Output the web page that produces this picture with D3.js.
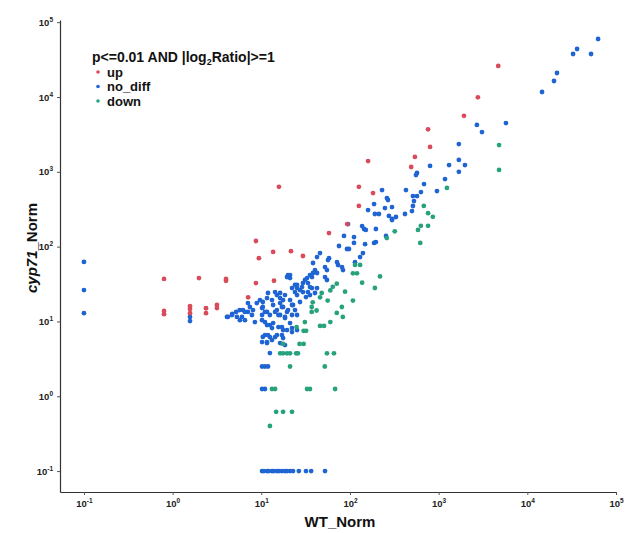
<!DOCTYPE html>
<html>
<head>
<meta charset="utf-8">
<script src="https://cdn.jsdelivr.net/npm/d3@7"></script>
<style>
  body { margin: 0; background: #fff; }
  svg text { font-family: "Liberation Sans", Arial, sans-serif; }
</style>
</head>
<body>
<div id="chart"></div>
<script>
// ---- data: [WT_Norm, cyp71_Norm] ----
const upPoints = [
  [0.8, 37], [0.8, 13.8], [0.8, 12.5], [1.57, 16], [1.57, 14.7], [1.57, 12.9],
  [1.98, 38], [2.38, 15], [2.38, 12.9], [3.16, 16.6], [3.16, 15.1], [4.0, 37], [4.0, 35],
  [7.1, 21], [8.7, 119], [8.7, 32.6], [9.4, 70], [13.6, 85], [21.6, 87], [29.5, 75],
  [13.9, 35], [15.8, 630], [58, 152], [93, 200], [126, 350], [182, 520], [126, 630],
  [160, 1390], [490, 1160], [540, 1580], [760, 3700], [800, 2150], [1930, 5600],
  [2770, 9900], [4700, 26000]
];

const noDiffPoints = [
  [0.1, 62.5], [0.1, 26.3], [0.1, 12.9], [1.57, 11.5], [1.57, 10.1],
  [4.1, 11.5], [4.7, 12.6], [5.2, 13.4], [5.7, 14.2],
  [62800, 59600], [36400, 43850], [32800, 37580], [52300, 37580], [21600, 20940],
  [20000, 16370], [14650, 11660], [5740, 4490], [2700, 4230], [3080, 3400],
  [1690, 2350], [1690, 1440], [1310, 1230], [1980, 1230], [1690, 1000], [1180, 800],
  [800, 1200], [555, 906], [570, 964], [684, 686], [957, 553], [428, 570], [230, 570],
  [513, 474], [570, 474], [527, 407], [632, 536], [513, 349], [500, 299], [417, 273],
  [330, 249], [298, 234], [248, 328], [261, 446], [268, 420], [298, 338], [275, 257],
  [255, 139], [187, 371], [160, 308], [191, 273], [212, 273], [196, 172], [137, 188],
  [144, 172], [151, 167], [95, 200], [85.6, 139], [111, 134], [75.2, 102], [111, 112],
  [148, 108], [187, 112], [196, 115], [92.5, 92.9], [97.4, 92.9], [45.9, 82.1],
  [42.5, 72.6], [58, 70], [130, 72.6], [140, 82.1], [298, 227],
  [114, 62], [71.4, 62.2], [73.3, 56.8], [81.3, 53.3], [83.4, 48.6], [38.3, 60.4],
  [52.3, 53.3], [55, 48.6], [40.3, 48.6], [38.3, 44.4], [35.4, 41.7], [32.8, 38],
  [29.5, 32.6], [20, 41.7], [21.1, 38], [24, 30.7], [25.3, 27.9], [27.3, 26.3],
  [29.5, 24.7], [35.4, 28.8], [33.6, 24.7], [31.9, 21.2], [42.5, 27.9], [40.3, 24],
  [16.3, 24], [18.5, 22.5], [11.9, 24], [9.66, 19.3], [10.4, 18.2], [13.2, 19.3],
  [13.6, 16.6], [16.3, 17.6], [17.1, 15.6], [21.1, 19.3], [22.8, 16.6], [27.3, 18.2],
  [7.07, 17.6], [6.21, 14.2], [8.05, 14.2], [7.84, 12.2], [10.2, 15.1], [11.6, 13.4],
  [12.5, 12.2], [15, 14.2], [16.3, 12.2], [18.5, 11.1], [20, 14.2], [22.2, 12.2],
  [5.31, 11.5], [5.74, 10.4], [6.54, 10.4], [8.47, 9.8], [10.2, 10.4], [11.6, 8.95],
  [13.2, 8.16], [17.1, 8.41], [19.5, 7.67], [22.2, 7.21], [25.3, 7.67], [11, 6.58],
  [12.5, 6.18], [15, 6.58], [10.4, 6.2], [17.6, 6.0], [10.2, 5.3], [11.6, 5.14],
  [13.2, 5.64], [16.3, 5.14], [18.5, 4.83], [12.5, 3.78], [10.2, 2.5], [11, 2.5],
  [11.9, 2.5], [10.2, 1.25], [11, 1.25],
  [56.5, 66.2], [42.5, 44.4], [37.3, 39.2], [52.3, 39.2], [55, 35.8], [31.1, 35.8],
  [33.6, 32.6], [28.8, 28.8], [37.3, 27.9], [35.4, 22.5], [22.2, 27.9], [24, 24.7],
  [25.3, 22.5], [19.5, 39.2], [21.1, 41.7], [17.6, 19.3], [25.3, 30.7], [14.3, 24.7],
  [15, 22.5], [16.3, 20.5], [11.6, 20.5], [8.9, 17.6], [7.44, 15.6], [7.07, 13.4],
  [6.54, 13.4], [6.05, 11.5], [4.66, 12.2], [4.2, 11.5], [10.4, 15.6], [11, 13.4],
  [10.2, 12.2], [14.3, 13.4], [15.6, 12.2], [17.6, 15.6], [19.5, 13.4], [18.5, 11.5],
  [22.2, 16.6], [24, 14.2], [25.3, 12.2], [11, 9.8], [12.5, 8.95], [13.6, 9.5],
  [15.6, 8.41], [17.6, 7.67], [21.1, 9.5], [22.2, 8.16], [11.9, 6.58], [14.3, 6.18],
  [17.1, 6.58], [11.6, 5.3],
  // zero counts in cyp71 (plotted at 0.1)
  [10.2, 0.1], [10.7, 0.1], [11.6, 0.1], [12.1, 0.1], [13.2, 0.1], [13.8, 0.1],
  [15, 0.1], [15.8, 0.1], [17.1, 0.1], [18.5, 0.1], [19.5, 0.1], [21.1, 0.1],
  [22.8, 0.1], [26.5, 0.1], [31.9, 0.1], [36.5, 0.1], [52.3, 0.1]
];

const downPoints = [
  [30, 7.5], [32, 7.5], [27, 5], [30, 5], [17.6, 5],
  [16.3, 3.75], [17.6, 3.75], [19.5, 3.75], [21.1, 3.75], [24.7, 3.75], [25.9, 3.75],
  [55, 3.75], [66, 3.75], [21.1, 2.5], [52, 2.5],
  [13.2, 1.25], [14.3, 1.25], [32.8, 1.25], [35.4, 1.25], [68, 1.25],
  [14.7, 0.62], [17.6, 0.62], [22.2, 0.62], [12.5, 0.4],
  [114, 57], [130, 57], [108, 44], [120, 44], [218, 40], [137, 33], [191, 28],
  [71, 32], [64, 29], [60, 26], [88, 25], [48, 24], [46, 21], [56, 19], [108, 19],
  [38, 18], [37, 15.6], [37, 13.4], [42, 14], [81, 15.6], [71, 13], [83, 11.5],
  [60, 9.8], [31, 9.8], [46, 8.7], [51, 8.7], [25, 8.4],
  [260, 130], [320, 160], [620, 112], [585, 167], [630, 190], [760, 190], [680, 350],
  [760, 280], [860, 250], [1240, 610], [4800, 2280], [4800, 1060]
];

const tickExps = [-1, 0, 1, 2, 3, 4, 5];
const legendTitle = 'p<=0.01 AND |log2Ratio|>=1';

const groups = [
  { key: 'up', color: '#d94b5b', data: upPoints },
  { key: 'no_diff', color: '#1f64d3', data: noDiffPoints },
  { key: 'down', color: '#27a27d', data: downPoints }
];

// ---- layout ----
const W = 635, H = 533;
const m = { l: 60, r: 616, t: 20, b: 492 };

const svg = d3.select('#chart').append('svg')
  .attr('width', W).attr('height', H);

const x = d3.scaleLog().domain([0.0537, 1e5]).range([m.l, m.r]);
const y = d3.scaleLog().domain([0.0525, 107000]).range([m.b, m.t]);

// points: no_diff under, then down, then up
const drawOrder = [groups[1], groups[2], groups[0]];
drawOrder.forEach(g => {
  svg.append('g').selectAll('circle')
    .data(g.data).join('circle')
    .attr('cx', d => x(d[0]))
    .attr('cy', d => y(d[1]))
    .attr('r', 2.4)
    .attr('fill', g.color);
});

// axes
const supLabels = (sel) => {
  sel.selectAll('.tick text').each(function (d) {
    const t = d3.select(this).text(null);
    t.append('tspan').text('10');
    t.append('tspan').attr('dy', -4).attr('font-size', 6.5).text(Math.round(Math.log10(d)));
  });
};

const xAxis = svg.append('g').attr('transform', `translate(0,${m.b})`)
  .call(d3.axisBottom(x).tickValues(tickExps.map(e => 10 ** e)).tickSize(3).tickSizeOuter(0).tickPadding(5))
  .call(supLabels);
const yAxis = svg.append('g').attr('transform', `translate(${m.l},0)`)
  .call(d3.axisLeft(y).tickValues(tickExps.map(e => 10 ** e)).tickSize(3).tickSizeOuter(0).tickPadding(4))
  .call(supLabels);

[xAxis, yAxis].forEach(a => {
  a.attr('font-size', 9.5).attr('font-weight', 'bold');
  a.select('.domain').attr('stroke', '#333').attr('stroke-width', 1.2);
  a.selectAll('.tick line').attr('stroke', '#555');
  a.selectAll('.tick text').attr('fill', '#222');
});

// axis titles
svg.append('text')
  .attr('x', 340).attr('y', 527)
  .attr('text-anchor', 'middle')
  .attr('font-size', 15).attr('font-weight', 'bold').attr('fill', '#111')
  .text('WT_Norm');

const yt = svg.append('text')
  .attr('transform', 'translate(37,248) rotate(-90)')
  .attr('text-anchor', 'middle')
  .attr('font-size', 15).attr('font-weight', 'bold').attr('fill', '#111');
yt.append('tspan').attr('font-style', 'italic').text('cyp71');
yt.append('tspan').text('_Norm');

// legend
const lg = svg.append('g');
const lt = lg.append('text')
  .attr('x', 92).attr('y', 62)
  .attr('font-size', 14).attr('font-weight', 'bold').attr('fill', '#111');
const parts = legendTitle.split('2');
lt.append('tspan').text(parts[0]);
lt.append('tspan').attr('font-size', 9).attr('dy', 3).text('2');
lt.append('tspan').attr('dy', -3).text(parts[1]);

groups.forEach((g, i) => {
  const yy = 72 + i * 14.5;
  lg.append('circle').attr('cx', 98).attr('cy', yy).attr('r', 1.8).attr('fill', g.color);
  lg.append('text')
    .attr('x', 107).attr('y', yy + 4.5)
    .attr('font-size', 13).attr('font-weight', 'bold').attr('fill', '#111')
    .text(g.key);
});
</script>
</body>
</html>
